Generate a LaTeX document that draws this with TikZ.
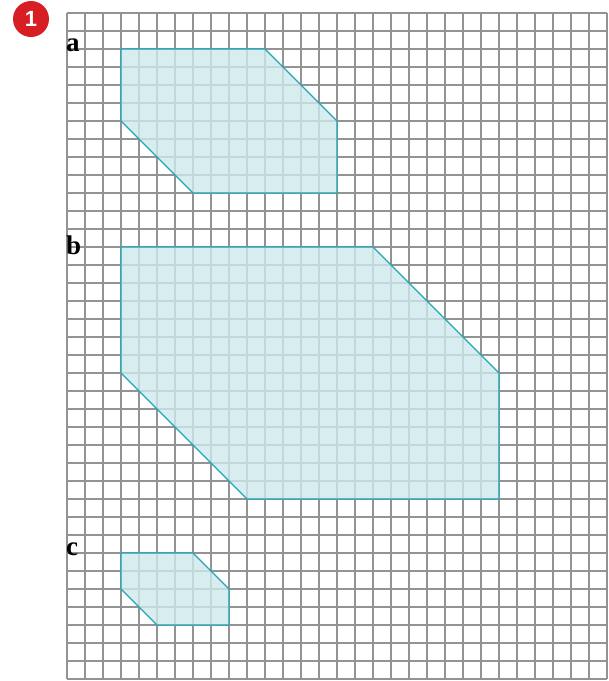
\documentclass[tikz,border=0pt]{standalone}
\usepackage{fontspec}
\setmainfont{Liberation Serif}
\newfontfamily\numfont{Liberation Sans}
\definecolor{gridgray}{HTML}{939393}
\definecolor{shapefill}{HTML}{CDE9EB}
\definecolor{shapeedge}{HTML}{22A6B6}
\definecolor{badgered}{HTML}{D81E25}
\begin{document}
\begin{tikzpicture}[x=1pt,y=-1pt,
  gridline/.style={draw=gridgray,line width=1.25pt},
  figshape/.style={fill=shapefill,fill opacity=0.8,draw=shapeedge,line width=1.1pt,line join=miter},
  partlabel/.style={anchor=base west,inner sep=0pt,font=\fontsize{27}{27}\selectfont\bfseries},
  badge/.style={circle,fill=badgered,minimum size=36pt,inner sep=0pt,text=white,font=\numfont\fontsize{22}{22}\selectfont\bfseries}]
\useasboundingbox (0,0) rectangle (609,681);
% grid
\foreach \i in {0,...,30} {\draw[gridline] ({67+18*\i},13) -- ({67+18*\i},679);}
\foreach \j in {0,...,37} {\draw[gridline] (67,{13+18*\j}) -- (607,{13+18*\j});}
% shapes
\begin{scope}[shift={(67,13)},x=18pt,y=-18pt]
\draw[figshape] (3,2) coordinate (a1) -- (11,2) coordinate (a2) -- (15,6) coordinate (a3) -- (15,10) coordinate (a4) -- (7,10) coordinate (a5) -- (3,6) coordinate (a6) -- cycle;
\draw[figshape] (3,13) coordinate (b1) -- (17,13) coordinate (b2) -- (24,20) coordinate (b3) -- (24,27) coordinate (b4) -- (10,27) coordinate (b5) -- (3,20) coordinate (b6) -- cycle;
\draw[figshape] (3,30) coordinate (c1) -- (7,30) coordinate (c2) -- (9,32) coordinate (c3) -- (9,34) coordinate (c4) -- (5,34) coordinate (c5) -- (3,32) coordinate (c6) -- cycle;
\end{scope}
% labels
\node[partlabel] (la) at (66,51) {a};
\node[partlabel] (lb) at (66,254) {b};
\node[partlabel] (lc) at (66,555) {c};
\node[badge] (num) at (31,19) {1};
\end{tikzpicture}
\end{document}
